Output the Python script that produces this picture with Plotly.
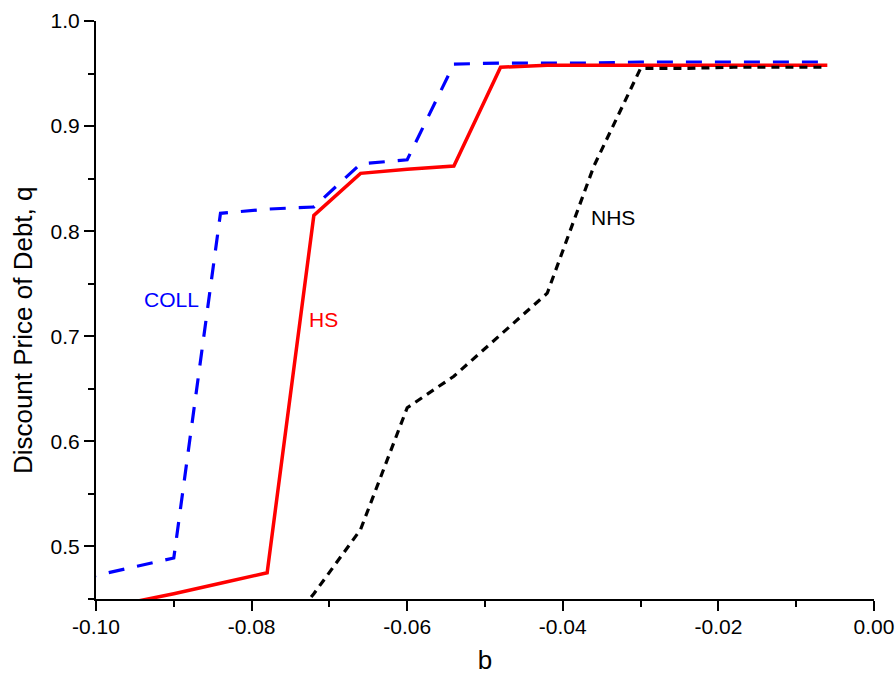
import plotly.graph_objects as go

# ~~~ data ~~~ #
b_coll = [-0.102, -0.096, -0.090, -0.084, -0.078, -0.072, -0.066, -0.060, -0.054,
          -0.048, -0.042, -0.036, -0.030, -0.024, -0.018, -0.012, -0.006]
q_coll = [0.469, 0.479, 0.489, 0.817, 0.821, 0.823, 0.864, 0.868, 0.959,
          0.960, 0.960, 0.960, 0.961, 0.961, 0.961, 0.961, 0.961]

b_hs = [-0.102, -0.096, -0.090, -0.084, -0.078, -0.072, -0.066, -0.060, -0.054,
        -0.048, -0.042, -0.036, -0.030, -0.024, -0.018, -0.012, -0.006]
q_hs = [0.437, 0.446, 0.455, 0.465, 0.475, 0.815, 0.855, 0.859, 0.862,
        0.956, 0.958, 0.958, 0.958, 0.958, 0.958, 0.958, 0.958]

b_nhs = [-0.078, -0.072, -0.066, -0.060, -0.054, -0.048, -0.042, -0.036, -0.030,
         -0.024, -0.018, -0.012, -0.006]
q_nhs = [0.400, 0.455, 0.516, 0.632, 0.662, 0.701, 0.741, 0.862, 0.955,
         0.955, 0.956, 0.956, 0.956]

# tick labels (plain hyphen minus, as in the original)
x_ticks = [-0.10, -0.08, -0.06, -0.04, -0.02, 0.00]
x_ticktext = ['-0.10', '-0.08', '-0.06', '-0.04', '-0.02', '0.00']
y_ticks = [0.5, 0.6, 0.7, 0.8, 0.9, 1.0]
y_ticktext = ['0.5', '0.6', '0.7', '0.8', '0.9', '1.0']

# curve labels (b, q)
labels = ['COLL', 'HS', 'NHS']
label_b = [-0.0903, -0.0707, -0.0336]
label_q = [0.735, 0.7155, 0.813]
colors = ['#0000FF', '#FF0000', '#000000']

FONT = 'Arial, Liberation Sans, sans-serif'

fig = go.Figure()
fig.add_trace(go.Scatter(x=b_coll, y=q_coll, mode='lines', name='COLL',
                         line=dict(color=colors[0], width=3.2, dash='16px,13px')))
fig.add_trace(go.Scatter(x=b_hs, y=q_hs, mode='lines', name='HS',
                         line=dict(color=colors[1], width=3.5)))
fig.add_trace(go.Scatter(x=b_nhs, y=q_nhs, mode='lines', name='NHS',
                         line=dict(color=colors[2], width=3.2, dash='8px,6px')))

for txt, xb, yq, c in zip(labels, label_b, label_q, colors):
    fig.add_annotation(x=xb, y=yq, text=txt, showarrow=False,
                       font=dict(family=FONT, size=21, color=c))

# y title placed a bit below centre, as in the original
fig.add_annotation(xref='paper', yref='paper', x=-0.094, y=0.465,
                   text='Discount Price of Debt, q', textangle=-90, showarrow=False,
                   xanchor='center', yanchor='middle',
                   font=dict(family=FONT, size=26, color='black'))

fig.update_layout(width=896, height=675, showlegend=False,
                  plot_bgcolor='white', paper_bgcolor='white',
                  margin=dict(l=96, r=22, t=21, b=76, autoexpand=False),
                  font=dict(family=FONT, size=21, color='black'))
fig.update_xaxes(range=[-0.10, 0.0], tickvals=x_ticks, ticktext=x_ticktext,
                 showgrid=False, zeroline=False, showline=True, linecolor='black',
                 linewidth=2, ticks='outside', ticklen=10, tickwidth=2, tickcolor='black',
                 ticklabelstandoff=-2,
                 minor=dict(dtick=0.01, tick0=0, ticks='outside', ticklen=6, tickwidth=2,
                            tickcolor='black', showgrid=False),
                 title=dict(text='b', font=dict(family=FONT, size=26), standoff=14))
fig.update_yaxes(range=[0.45, 1.0], tickvals=y_ticks, ticktext=y_ticktext,
                 showgrid=False, zeroline=False, showline=True, linecolor='black',
                 linewidth=2, ticks='outside', ticklen=10, tickwidth=2, tickcolor='black',
                 minor=dict(dtick=0.05, tick0=0, ticks='outside', ticklen=6, tickwidth=2,
                            tickcolor='black', showgrid=False))

fig.write_html("out.html", config={'displayModeBar': False},
               post_script="document.body.style.margin='0';document.body.style.overflow='hidden';")
